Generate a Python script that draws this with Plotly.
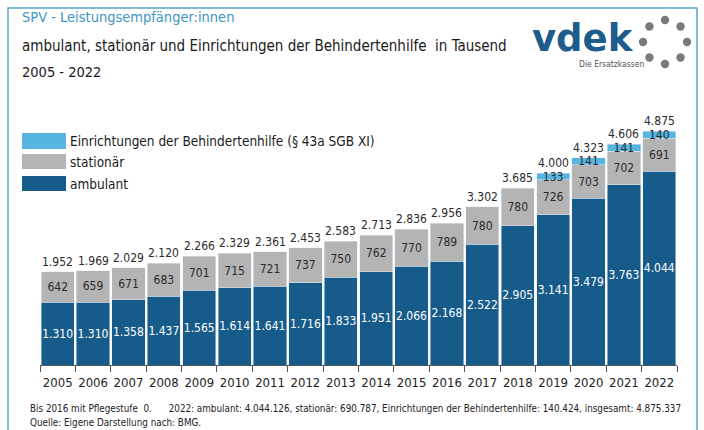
import math
import plotly.graph_objects as go

years = [str(y) for y in range(2005, 2023)]
ambulant = [1310, 1310, 1358, 1437, 1565, 1614, 1641, 1716, 1833, 1951,
            2066, 2168, 2522, 2905, 3141, 3479, 3763, 4044]
stationaer = [642, 659, 671, 683, 701, 715, 721, 737, 750, 762,
              770, 789, 780, 780, 726, 703, 702, 691]
einrichtungen = [None] * 14 + [133, 141, 141, 140]
totals = [1952, 1969, 2029, 2120, 2266, 2329, 2361, 2453, 2583, 2713,
          2836, 2956, 3302, 3685, 4000, 4323, 4606, 4875]

FONT = "DejaVu Sans Condensed, sans-serif"
C_AMB = "#175b8a"
C_STA = "#b4b4b4"
C_EIN = "#57b5e2"
C_FRAME = "#5aa6c8"
VAL_SIZE = 12

W, H = 704, 430
ML, MR, MT, MB = 40, 27, 101, 65
PW, PH = W - ML - MR, H - MT - MB


def px(x):
    return (x - ML) / PW


def py(y):
    return (H - MB - y) / PH


fig = go.Figure()

common = dict(textposition="inside", insidetextanchor="middle", textangle=0,
              constraintext="none", texttemplate="%{y:,}", hoverinfo="skip")

fig.add_trace(go.Bar(x=years, y=ambulant, name="ambulant", marker_color=C_AMB,
                     insidetextfont=dict(color="white", size=VAL_SIZE, family=FONT), **common))
fig.add_trace(go.Bar(x=years, y=stationaer, name="stationär", marker_color=C_STA,
                     insidetextfont=dict(color="#2a2a2a", size=VAL_SIZE, family=FONT), **common))
fig.add_trace(go.Bar(x=years, y=einrichtungen, name="Einrichtungen der Behindertenhilfe (§ 43a SGB XI)",
                     marker_color=C_EIN,
                     insidetextfont=dict(color="#2a2a2a", size=VAL_SIZE, family=FONT), **common))

shapes = []
annotations = []

# totals above the bars (category index on the x axis, value on the y axis)
for i, tot in enumerate(totals):
    annotations.append(dict(x=i, y=tot, xref="x", yref="y", text=f"{tot:,}".replace(",", "."),
                            xanchor="center", yanchor="bottom", yshift=1, showarrow=False,
                            font=dict(color="#2a2a2a", size=VAL_SIZE, family=FONT)))

paper_ann = []
# frame
shapes.append(dict(type="rect", xref="paper", yref="paper",
                   x0=px(8), x1=px(697), y0=py(445), y1=py(8),
                   line=dict(color=C_FRAME, width=1.5), fillcolor="rgba(0,0,0,0)", layer="below"))

# titles
paper_ann.append(dict(text="SPV - Leistungsempfänger:innen", x=px(20), y=py(17),
                      font=dict(size=14.5, color="#3d96c4", family=FONT)))
paper_ann.append(dict(text="ambulant, stationär und Einrichtungen der Behindertenhilfe  in Tausend",
                      x=px(20), y=py(46), font=dict(size=15, color="#1a1a1a", family=FONT)))
paper_ann.append(dict(text="2005 - 2022", x=px(20), y=py(72),
                      font=dict(size=14.5, color="#1a1a1a", family=FONT)))

# legend (manual)
leg = [("Einrichtungen der Behindertenhilfe (§ 43a SGB XI)", C_EIN, 133, 149),
       ("stationär", C_STA, 154, 169),
       ("ambulant", C_AMB, 176, 191)]
for label, col, y0, y1 in leg:
    shapes.append(dict(type="rect", xref="paper", yref="paper", x0=px(22), x1=px(66),
                       y0=py(y1), y1=py(y0), fillcolor=col, line=dict(width=0)))
    paper_ann.append(dict(text=label, x=px(68), y=py((y0 + y1) / 2),
                          font=dict(size=13.5, color="#1a1a1a", family=FONT)))

# footnotes
paper_ann.append(dict(text="Bis 2016 mit Pflegestufe  0.      2022: ambulant: 4.044.126, stationär: 690.787, "
                           "Einrichtungen der Behindertenhilfe: 140.424, insgesamt: 4.875.337",
                      x=px(28), y=py(408), font=dict(size=9.8, color="#222", family=FONT)))
paper_ann.append(dict(text="Quelle: Eigene Darstellung nach: BMG.",
                      x=px(28), y=py(422), font=dict(size=9.8, color="#222", family=FONT)))

# logo
paper_ann.append(dict(text="<b>vdek</b>", x=px(530), y=py(38),
                      font=dict(size=37, color="#1d5c8c", family="DejaVu Sans, sans-serif")))
paper_ann.append(dict(text="Die Ersatzkassen", x=px(577), y=py(64),
                      font=dict(size=8.5, color="#555", family=FONT)))
cx, cy, r, dr = 665, 42, 22, 4.2
for k in range(8):
    a = math.pi / 2 - k * math.pi / 4
    dx, dy = cx + r * math.cos(a), cy - r * math.sin(a)
    shapes.append(dict(type="circle", xref="paper", yref="paper",
                       x0=px(dx - dr), x1=px(dx + dr), y0=py(dy + dr), y1=py(dy - dr),
                       fillcolor="#7a7a7a", line=dict(width=0)))

for a in paper_ann:
    a.update(xref="paper", yref="paper", xanchor="left", yanchor="middle", showarrow=False)
annotations += paper_ann

fig.update_layout(
    width=W, height=H,
    margin=dict(l=ML, r=MR, t=MT, b=MB, autoexpand=False),
    barmode="stack", bargap=0.06,
    paper_bgcolor="white", plot_bgcolor="white",
    separators=",.",
    showlegend=False, hovermode=False,
    font=dict(family=FONT, color="#222"),
    shapes=shapes, annotations=annotations,
    xaxis=dict(type="category", range=[-0.5, len(years) - 0.5], tickson="boundaries",
               ticks="outside", ticklen=6, tickangle=0, ticklabelstandoff=5,
               tickcolor="#555", showline=True, linecolor="#555", linewidth=1,
               showgrid=False, tickfont=dict(size=13, color="#222", family=FONT),
               fixedrange=True),
    yaxis=dict(range=[0, PH / 0.0479], visible=False, showgrid=False, fixedrange=True),
)

fig.write_html("out.html", config={"displayModeBar": False},
               post_script="document.body.style.margin='0';document.body.style.overflow='hidden';")
